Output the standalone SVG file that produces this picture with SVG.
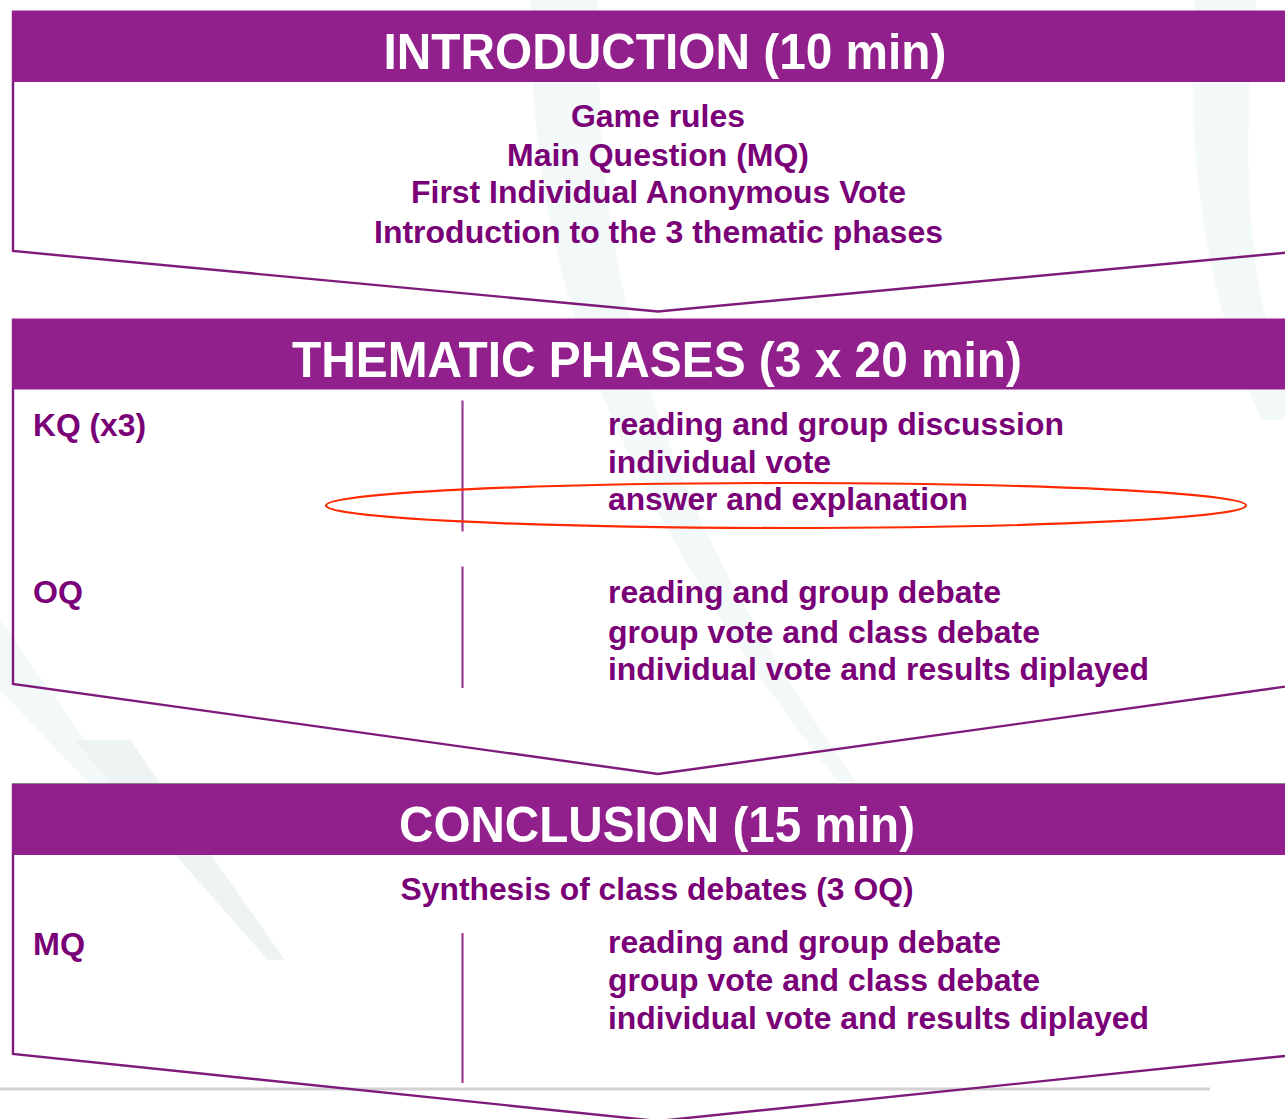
<svg xmlns="http://www.w3.org/2000/svg" width="1285" height="1119" viewBox="0 0 1285 1119">
  <defs>
    <style>
      .swoosh { fill: #F3F8F9; }
      .swoosh2 { fill: #EEF3F3; }
      .outline { fill: none; stroke: #7E1A7A; stroke-width: 2.4; stroke-linejoin: miter; }
      .band { fill: #92208C; }
      .bandline { stroke: #8A7F8A; stroke-width: 1; }
      .hdr { font-family: "Liberation Sans", Arial, sans-serif; font-weight: bold; font-size: 50px; fill: #FFFFFF; text-anchor: middle; }
      .ctr { font-family: "Liberation Sans", Arial, sans-serif; font-weight: bold; font-size: 31px; fill: #7A0077; text-anchor: middle; }
      .lbl { font-family: "Liberation Sans", Arial, sans-serif; font-weight: bold; font-size: 31px; fill: #7A0077; }
      .div { stroke: #9A3C96; stroke-width: 2.2; }
    </style>
  </defs>
  <rect x="0" y="0" width="1285" height="1119" fill="#FFFFFF"/>

  <g id="background">
    <path class="swoosh" d="M 530 0 C 532 210 562 430 838 782 L 856 782 C 612 440 598 210 598 0 Z"/>
    <path class="swoosh" d="M 1195 0 C 1185 150 1205 300 1262 420 L 1285 420 L 1285 380 C 1245 280 1242 150 1256 0 Z"/>
    <path class="swoosh" d="M 0 620 L 0 690 L 95 790 L 120 790 Z"/>
    <path class="swoosh2" d="M 74 740 L 130 740 L 285 960 L 268 960 Z"/>
    <line x1="0" y1="1089" x2="1210" y2="1089" stroke="#D2D2D2" stroke-width="3"/>
  </g>

  <g id="introduction">
    <path class="outline" d="M 13 11 L 13 251 L 658 311.5 L 1304 251 L 1304 11"/>
    <rect class="band" x="12" y="10.5" width="1280" height="71.5"/>
    <text class="hdr" x="665" y="69" textLength="563" lengthAdjust="spacingAndGlyphs">INTRODUCTION (10 min)</text>
    <text class="ctr" x="658" y="127" textLength="174" lengthAdjust="spacingAndGlyphs">Game rules</text>
    <text class="ctr" x="658" y="165.5" textLength="302" lengthAdjust="spacingAndGlyphs">Main Question (MQ)</text>
    <text class="ctr" x="658.5" y="202.5" textLength="495" lengthAdjust="spacingAndGlyphs">First Individual Anonymous Vote</text>
    <text class="ctr" x="658.5" y="242.5" textLength="569" lengthAdjust="spacingAndGlyphs">Introduction to the 3 thematic phases</text>
  </g>

  <g id="thematic-phases">
    <path class="outline" d="M 13 319 L 13 684 L 658 774 L 1304 684 L 1304 319"/>
    <rect class="band" x="12" y="318.5" width="1280" height="71"/>
    <text class="hdr" x="657" y="377" textLength="730" lengthAdjust="spacingAndGlyphs">THEMATIC PHASES (3 x 20 min)</text>
    <line class="div" x1="462.5" y1="400.5" x2="462.5" y2="531.5"/>
    <line class="div" x1="462.5" y1="566.5" x2="462.5" y2="688"/>
    <text class="lbl" x="33" y="436" textLength="113" lengthAdjust="spacingAndGlyphs">KQ (x3)</text>
    <text class="lbl" x="608" y="435" textLength="456" lengthAdjust="spacingAndGlyphs">reading and group discussion</text>
    <text class="lbl" x="608" y="472.5" textLength="223" lengthAdjust="spacingAndGlyphs">individual vote</text>
    <text class="lbl" x="608" y="510" textLength="360" lengthAdjust="spacingAndGlyphs">answer and explanation</text>
    <text class="lbl" x="33" y="603" textLength="50" lengthAdjust="spacingAndGlyphs">OQ</text>
    <text class="lbl" x="608" y="603" textLength="393" lengthAdjust="spacingAndGlyphs">reading and group debate</text>
    <text class="lbl" x="608" y="642.5" textLength="432" lengthAdjust="spacingAndGlyphs">group vote and class debate</text>
    <text class="lbl" x="608" y="680" textLength="541" lengthAdjust="spacingAndGlyphs">individual vote and results diplayed</text>
  </g>

  <g id="highlight">
    <ellipse cx="786" cy="505.5" rx="460" ry="22.5" fill="none" stroke="#FF2A00" stroke-width="2.2"/>
  </g>

  <g id="conclusion">
    <path class="outline" d="M 13 784 L 13 1054 L 658 1121 L 1304 1054 L 1304 784"/>
    <rect class="band" x="12" y="783.5" width="1280" height="71.5"/>
    <line class="bandline" x1="12" y1="783.5" x2="1285" y2="783.5"/>
    <text class="hdr" x="657" y="842" textLength="516" lengthAdjust="spacingAndGlyphs">CONCLUSION (15 min)</text>
    <text class="ctr" x="657" y="900" textLength="513" lengthAdjust="spacingAndGlyphs">Synthesis of class debates (3 OQ)</text>
    <line class="div" x1="462.5" y1="933" x2="462.5" y2="1083"/>
    <text class="lbl" x="33" y="955" textLength="52" lengthAdjust="spacingAndGlyphs">MQ</text>
    <text class="lbl" x="608" y="953" textLength="393" lengthAdjust="spacingAndGlyphs">reading and group debate</text>
    <text class="lbl" x="608" y="990.5" textLength="432" lengthAdjust="spacingAndGlyphs">group vote and class debate</text>
    <text class="lbl" x="608" y="1029" textLength="541" lengthAdjust="spacingAndGlyphs">individual vote and results diplayed</text>
  </g>

  <g id="connectors"></g>
</svg>
